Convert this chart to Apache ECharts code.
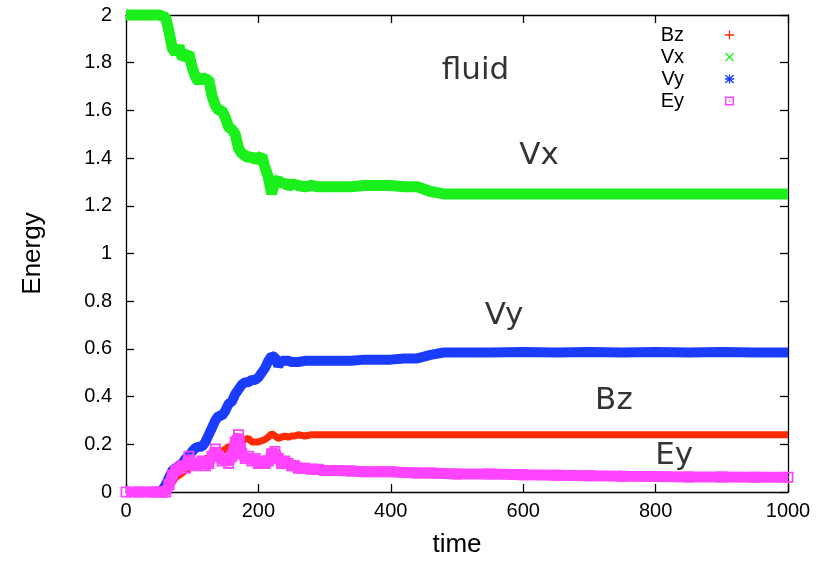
<!DOCTYPE html>
<html><head><meta charset="utf-8">
<script src="https://cdn.jsdelivr.net/npm/echarts@6/dist/echarts.min.js"></script>
<style>html,body{margin:0;padding:0;background:#fff}#c{width:824px;height:563px}</style>
</head><body><div id="c"></div>
<script>
// ---- data ----
const time = [0,20,40,50,55,60,65,70,75,80,85,90,95,100,105,110,115,120,125,130,135,140,145,150,155,160,165,170,175,180,185,190,195,200,205,210,215,220,225,230,235,240,245,250,255,260,270,280,290,300,320,340,360,380,400,420,440,460,480,500,550,600,650,700,750,800,850,900,950,1000];
const bz = [0,0,0,0,0,0.005,0.02,0.04,0.06,0.07,0.08,0.09,0.10,0.11,0.115,0.12,0.13,0.14,0.14,0.15,0.16,0.16,0.17,0.18,0.19,0.19,0.20,0.20,0.21,0.22,0.225,0.21,0.21,0.21,0.215,0.22,0.23,0.245,0.235,0.225,0.23,0.235,0.23,0.235,0.235,0.24,0.235,0.24,0.24,0.24,0.24,0.24,0.24,0.24,0.24,0.24,0.24,0.24,0.24,0.24,0.24,0.24,0.24,0.24,0.24,0.24,0.24,0.24,0.24,0.24];
const vx = [2,2,2,2,1.995,1.99,1.93,1.86,1.84,1.87,1.82,1.83,1.84,1.78,1.74,1.72,1.74,1.73,1.73,1.66,1.62,1.60,1.60,1.57,1.53,1.52,1.50,1.44,1.42,1.41,1.40,1.41,1.39,1.40,1.41,1.36,1.32,1.25,1.30,1.31,1.29,1.30,1.28,1.29,1.29,1.285,1.28,1.285,1.28,1.28,1.28,1.28,1.285,1.285,1.285,1.28,1.28,1.26,1.25,1.25,1.25,1.25,1.25,1.25,1.25,1.25,1.25,1.25,1.25,1.25];
const vy = [0,0,0,0,0.01,0.03,0.06,0.09,0.10,0.11,0.12,0.14,0.15,0.17,0.185,0.19,0.19,0.21,0.24,0.27,0.30,0.32,0.32,0.34,0.37,0.38,0.41,0.43,0.45,0.46,0.46,0.47,0.47,0.48,0.50,0.52,0.55,0.57,0.565,0.53,0.55,0.55,0.55,0.545,0.545,0.545,0.55,0.55,0.55,0.55,0.55,0.55,0.555,0.555,0.555,0.56,0.56,0.575,0.585,0.585,0.585,0.587,0.585,0.587,0.585,0.587,0.585,0.587,0.585,0.585];
const ey = [0,0,0,0,0,0,0.03,0.07,0.09,0.10,0.11,0.10,0.15,0.12,0.11,0.12,0.13,0.11,0.12,0.15,0.18,0.15,0.13,0.14,0.12,0.15,0.21,0.24,0.16,0.14,0.15,0.13,0.14,0.12,0.13,0.12,0.13,0.16,0.17,0.14,0.12,0.13,0.12,0.11,0.11,0.10,0.10,0.095,0.095,0.09,0.09,0.088,0.085,0.085,0.085,0.082,0.08,0.08,0.078,0.075,0.075,0.072,0.07,0.068,0.066,0.065,0.063,0.063,0.062,0.062];
const seriesNames = ['Bz','Vx','Vy','Ey'];
const seriesColors = ['#ff2a00','#1cf01c','#1a3cff','#ff44ff'];
const labelText = ['fluid','Vx','Vy','Bz','Ey'];
const labelTime = [528,624,571,737,828];
const labelValue = [1.765,1.408,0.74,0.382,0.151];

// ---- chart ----
const seriesValues = [bz, vx, vy, ey];
const icons = [
  'path://M4.3,0h1.4v10h-1.4zM0,4.3h10v1.4h-10z',
  'path://M0,1L1,0L10,9L9,10ZM9,0L10,1L1,10L0,9Z',
  'path://M4.3,0h1.4v10h-1.4zM0,4.3h10v1.4h-10zM0,1L1,0L10,9L9,10ZM9,0L10,1L1,10L0,9Z',
  'path://M0,0h10v10h-10zM1.6,1.6v6.8h6.8v-6.8zM4.2,4.2h1.6v1.6h-1.6z'
];
const widths = [7, 11, 10, 11];
const FONT = 'Liberation Sans, Arial, Helvetica, sans-serif';
const axisLine = {onZero:false, lineStyle:{color:'#000', width:1.3}};
const axisTick = {inside:true, length:8, lineStyle:{color:'#000', width:1.3}};

const series = seriesNames.map((n, i) => ({
  name: n,
  type: 'line',
  data: time.map((t, k) => [t, seriesValues[i][k]]),
  symbol: i === 3 ? icons[3] : 'none',
  symbolSize: 11,
  showSymbol: i === 3,
  showAllSymbol: true,
  clip: false,
  color: seriesColors[i],
  itemStyle: {color: seriesColors[i]},
  lineStyle: {width: widths[i], color: seriesColors[i]},
  z: 2 + i
}));
series.push({
  type: 'scatter',
  name: 'labels',
  data: labelText.map((s, i) => [labelTime[i], labelValue[i]]),
  symbolSize: 1,
  itemStyle: {color: 'rgba(0,0,0,0)'},
  silent: true,
  z: 10,
  label: {
    show: true, position: 'inside',
    formatter: p => labelText[p.dataIndex],
    fontFamily: 'DejaVu Sans, sans-serif', fontSize: 31, color: '#000'
  }
});

const chart = echarts.init(document.getElementById('c'), null, {renderer: 'canvas'});
chart.setOption({
  animation: false,
  backgroundColor: '#fff',
  grid: {left: 126, right: 36, top: 15, bottom: 71},
  legend: {
    data: seriesNames.map((n, i) => ({name: n, icon: icons[i]})),
    orient: 'vertical', align: 'right',
    right: 90, top: 25, padding: 0, itemGap: 2,
    itemWidth: 9, itemHeight: 9,
    itemStyle: {borderWidth: 0},
    textStyle: {fontFamily: FONT, fontSize: 20, color: '#000', padding: [0, 36, 0, 0]}
  },
  xAxis: [{
    type: 'value', min: 0, max: 1000, interval: 200, position: 'bottom',
    axisLine, axisTick, splitLine: {show: false},
    axisLabel: {color: '#000', fontSize: 20, fontFamily: FONT, margin: 9, formatter: v => String(v)},
    name: 'time', nameLocation: 'middle', nameGap: 40,
    nameTextStyle: {fontSize: 26, color: '#000', fontFamily: FONT}
  }, {
    type: 'value', min: 0, max: 1000, interval: 200, position: 'top',
    axisLine, axisTick, splitLine: {show: false}, axisLabel: {show: false}
  }],
  yAxis: [{
    type: 'value', min: 0, max: 2, interval: 0.2, position: 'left',
    axisLine, axisTick, splitLine: {show: false},
    axisLabel: {color: '#000', fontSize: 20, fontFamily: FONT, margin: 14},
    name: 'Energy', nameLocation: 'middle', nameGap: 80,
    nameTextStyle: {fontSize: 26, color: '#000', fontFamily: FONT}
  }, {
    type: 'value', min: 0, max: 2, interval: 0.2, position: 'right',
    axisLine, axisTick, splitLine: {show: false}, axisLabel: {show: false}
  }],
  series
});
</script>
</body></html>
